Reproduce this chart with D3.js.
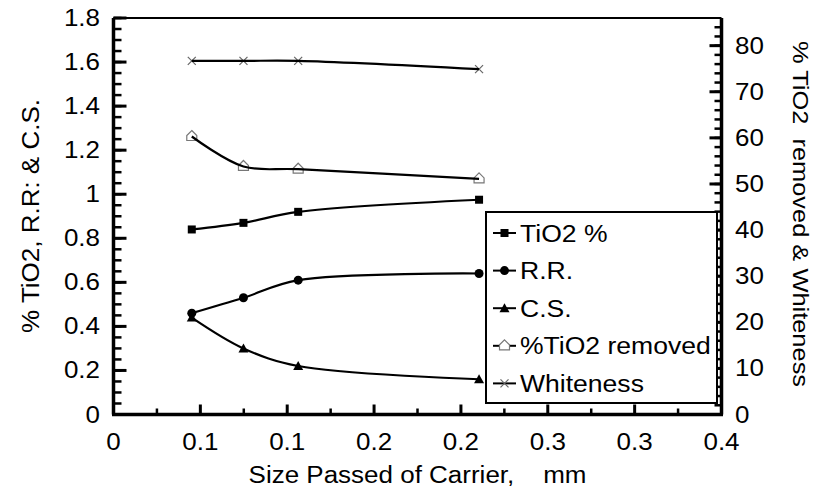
<!DOCTYPE html>
<html>
<head>
<meta charset="utf-8">
<script src="https://cdn.jsdelivr.net/npm/d3@7"></script>
<style>
  body { margin: 0; background: #fff; }
  svg { display: block; font-family: "Liberation Sans", Arial, Helvetica, sans-serif; }
</style>
</head>
<body>
<svg id="chart" width="814" height="495"></svg>
<script>
// data
const sizes = [0.0515, 0.0855, 0.1215, 0.2405]; // mm
const tio2 = [0.84, 0.87, 0.92, 0.975];
const rr = [0.46, 0.53, 0.61, 0.64];
const cs = [0.44, 0.30, 0.22, 0.16];
const removed = [60.3, 53.8, 53.2, 51.1];
const whiteness = [76.7, 76.7, 76.7, 74.9];

const xTickLabels = ["0", "0.1", "0.1", "0.2", "0.2", "0.3", "0.3", "0.4"];
const leftTickLabels = ["0", "0.2", "0.4", "0.6", "0.8", "1", "1.2", "1.4", "1.6", "1.8"];
const rightTickLabels = ["0", "10", "20", "30", "40", "50", "60", "70", "80"];

const legendNames = ["TiO2 %", "R.R.", "C.S.", "%TiO2 removed", "Whiteness"];

const plot = { left: 113.5, right: 721.5, top: 18, bottom: 414.5 };
const sx = 1.13; // de tekst in het origineel is wat breder dan hoog
const fs = 23;

const svg = d3.select('#chart');

const x = d3.scaleLinear().domain([0, 0.4]).range([plot.left, plot.right]);
const yL = d3.scaleLinear().domain([0, 1.8]).range([plot.bottom, plot.top]);
const yR = d3.scaleLinear().domain([0, 86]).range([plot.bottom, plot.top]);

const xTicks = xTickLabels.map((d, i) => 0.4 * i / (xTickLabels.length - 1));
const xMinor = d3.range(0, xTicks.length - 1).map(i => (xTicks[i] + xTicks[i + 1]) / 2);
const lTicks = leftTickLabels.map(Number);
const lMinor = d3.range(0, 1.8001, 0.05);
const rTicks = rightTickLabels.map(Number);
const rMinor = d3.range(0, 86, 2);

const frame = svg.append('g');

// ticks aan de binnenkant
function xTickLines(vals, len, w) {
  frame.append('g').selectAll('line').data(vals).enter().append('line')
    .attr('x1', d => x(d)).attr('x2', d => x(d))
    .attr('y1', plot.bottom).attr('y2', plot.bottom - len)
    .attr('stroke', '#000').attr('stroke-width', w);
}
function yTickLines(vals, scale, x0, len, w) {
  frame.append('g').selectAll('line').data(vals).enter().append('line')
    .attr('x1', x0).attr('x2', x0 + len)
    .attr('y1', d => scale(d)).attr('y2', d => scale(d))
    .attr('stroke', '#000').attr('stroke-width', w);
}
xTickLines(xMinor, 6, 2.5);
xTickLines(xTicks, 10, 3);
yTickLines(lMinor, yL, plot.left, 8, 2.5);
yTickLines(lTicks, yL, plot.left, 13, 3);
yTickLines(rMinor, yR, plot.right, -7, 2.5);
yTickLines(rTicks, yR, plot.right, -12, 3);

// assen en kader
frame.append('line').attr('x1', plot.left).attr('x2', plot.right)
  .attr('y1', plot.top).attr('y2', plot.top).attr('stroke', '#000').attr('stroke-width', 2);
frame.append('line').attr('x1', plot.left - 1.5).attr('x2', plot.right + 1.5)
  .attr('y1', plot.bottom).attr('y2', plot.bottom).attr('stroke', '#000').attr('stroke-width', 3.5);
frame.append('line').attr('x1', plot.left).attr('x2', plot.left)
  .attr('y1', plot.top).attr('y2', plot.bottom).attr('stroke', '#000').attr('stroke-width', 3.5);
frame.append('line').attr('x1', plot.right).attr('x2', plot.right)
  .attr('y1', plot.top).attr('y2', plot.bottom).attr('stroke', '#000').attr('stroke-width', 3.5);

// tick labels
const labels = svg.append('g').attr('font-size', fs).attr('fill', '#000');
labels.selectAll(null).data(xTicks).join('text')
  .attr('transform', d => `translate(${x(d)},${plot.bottom + 35}) scale(${sx},1)`)
  .attr('text-anchor', 'middle')
  .text((d, i) => xTickLabels[i]);
labels.selectAll(null).data(lTicks).join('text')
  .attr('transform', d => `translate(100,${yL(d) + 8}) scale(${sx},1)`)
  .attr('text-anchor', 'end')
  .text((d, i) => leftTickLabels[i]);
labels.selectAll(null).data(rTicks).join('text')
  .attr('transform', d => `translate(735,${yR(d) + 8}) scale(${sx},1)`)
  .attr('text-anchor', 'start')
  .text((d, i) => rightTickLabels[i]);

// as titels
svg.append('text')
  .attr('transform', `translate(${(plot.left + plot.right) / 2},483) scale(${sx},1)`)
  .attr('text-anchor', 'middle').attr('font-size', fs)
  .attr('xml:space', 'preserve')
  .text('Size Passed of Carrier,    mm');

svg.append('text')
  .attr('transform', `translate(39,216) rotate(-90) scale(${sx},1)`)
  .attr('text-anchor', 'middle').attr('font-size', fs)
  .text('% TiO2, R.R: & C.S.');

svg.append('text')
  .attr('transform', `translate(793,214) rotate(90) scale(${sx},1)`)
  .attr('text-anchor', 'middle').attr('font-size', 22.5)
  .attr('xml:space', 'preserve')
  .text('% TiO2  removed & Whiteness');

// reeksen
const series = [
  { name: legendNames[0], values: tio2, y: yL, marker: 'square' },
  { name: legendNames[1], values: rr, y: yL, marker: 'circle' },
  { name: legendNames[2], values: cs, y: yL, marker: 'triangle' },
  { name: legendNames[3], values: removed, y: yR, marker: 'house' },
  { name: legendNames[4], values: whiteness, y: yR, marker: 'cross' }
];

function drawMarker(g, type, cx, cy) {
  if (type === 'square') {
    g.append('rect').attr('x', cx - 4).attr('y', cy - 4).attr('width', 8).attr('height', 8).attr('fill', '#000');
  } else if (type === 'circle') {
    g.append('circle').attr('cx', cx).attr('cy', cy).attr('r', 4.5).attr('fill', '#000');
  } else if (type === 'triangle') {
    g.append('path').attr('d', `M${cx},${cy - 5}L${cx + 5},${cy + 4}L${cx - 5},${cy + 4}Z`).attr('fill', '#000');
  } else if (type === 'house') {
    g.append('path').attr('d', `M${cx},${cy - 6}L${cx + 5},${cy - 1}L${cx + 5},${cy + 4}L${cx - 5},${cy + 4}L${cx - 5},${cy - 1}Z`)
      .attr('fill', '#fff').attr('stroke', '#777').attr('stroke-width', 1.2);
  } else if (type === 'cross') {
    g.append('path').attr('d', `M${cx - 4},${cy - 4}L${cx + 4},${cy + 4}M${cx - 4},${cy + 4}L${cx + 4},${cy - 4}`)
      .attr('stroke', '#666').attr('stroke-width', 1.2);
  }
}

const line = d3.line().curve(d3.curveCatmullRom.alpha(0.5));

series.forEach(s => {
  const pts = sizes.map((d, i) => [x(d), s.y(s.values[i])]);
  const g = svg.append('g');
  const markers = g.append('g');
  pts.forEach(p => drawMarker(markers, s.marker, p[0], p[1]));
  g.append('path').attr('d', line(pts)).attr('fill', 'none')
    .attr('stroke', '#000').attr('stroke-width', 2.2);
});

// legenda
const legend = svg.append('g');
legend.append('rect')
  .attr('x', 486).attr('y', 212).attr('width', 231).attr('height', 191)
  .attr('fill', '#fff').attr('stroke', '#000').attr('stroke-width', 2);

series.forEach((s, i) => {
  const ly = 233 + i * 37.6;
  legend.append('line').attr('x1', 493).attr('x2', 516).attr('y1', ly).attr('y2', ly)
    .attr('stroke', '#000').attr('stroke-width', 2);
  drawMarker(legend, s.marker, 504.5, ly);
  legend.append('text')
    .attr('transform', `translate(520,${ly + 8.5}) scale(${sx},1)`)
    .attr('font-size', 23.5)
    .text(s.name);
});
</script>
</body>
</html>
